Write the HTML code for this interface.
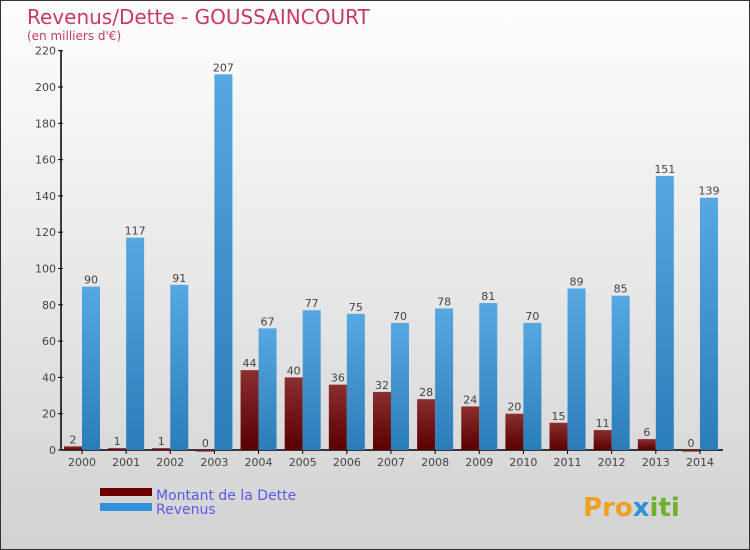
<!DOCTYPE html>
<html><head><meta charset="utf-8"><style>
body{margin:0}
#c{position:relative;width:748px;height:548px;border:1px solid #333;background:linear-gradient(#fefefe,#d2d2d2);font-family:"DejaVu Sans","Liberation Sans",sans-serif;overflow:hidden}
</style></head><body>
<div id="c">
<svg id="s" width="748" height="548" xmlns="http://www.w3.org/2000/svg">
<defs>
<linearGradient id="gr" x1="0" y1="0" x2="0" y2="1"><stop offset="0" stop-color="#8a2e30"/><stop offset="1" stop-color="#5a0000"/></linearGradient>
<linearGradient id="gb" x1="0" y1="0" x2="0" y2="1"><stop offset="0" stop-color="#56a8e2"/><stop offset="1" stop-color="#2a7db8"/></linearGradient>
</defs>
<text x="26" y="23" font-size="20" fill="#c8386a">Revenus/Dette - GOUSSAINCOURT</text>
<text x="26" y="39" font-size="12" fill="#c8386a">(en milliers d'€)</text>
<g id="g"></g>
<rect x="99" y="487" width="52" height="8" fill="#6a0000"/>
<rect x="99" y="502" width="52" height="8" fill="#3090d8"/>
<text x="155" y="499" font-size="14" fill="#5a5ae8">Montant de la Dette</text>
<text x="155" y="513" font-size="14" fill="#5a5ae8">Revenus</text>
<text x="582" y="515" font-size="26" font-weight="bold" fill="#f0a020">Pro<tspan fill="#3090d8">x</tspan><tspan fill="#70b030">iti</tspan></text>
</svg>
</div>
<script>
const years=["2000","2001","2002","2003","2004","2005","2006","2007","2008","2009","2010","2011","2012","2013","2014"];
const dette=[2,1,1,0,44,40,36,32,28,24,20,15,11,6,0];
const revenus=[90,117,91,207,67,77,75,70,78,81,70,89,85,151,139];
const ticks=[0,20,40,60,80,100,120,140,160,180,200,220];
const NS="http://www.w3.org/2000/svg";
const g=document.getElementById('g');
const y=v=>449-v*363/200;
const x=i=>81+i*44.14;
function mk(t,a,txt){const e=document.createElementNS(NS,t);for(const k in a)e.setAttribute(k,a[k]);if(txt!==undefined)e.textContent=txt;g.appendChild(e);return e;}
let e;
e=mk('line',{x1:60,y1:49,x2:60,y2:449,stroke:'#000','stroke-width':1.5});


e=mk('line',{x1:60,y1:449,x2:722,y2:449,stroke:'#000','stroke-width':1.5});


ticks.forEach(t=>{
 e=mk('line',{x1:57,y1:y(t),x2:62,y2:y(t),stroke:'#000'});
 
 
 e=mk('text',{x:55,y:y(t)+4,'font-size':11,fill:'#444','text-anchor':'end'},t);
 
 
});
years.forEach((yr,i)=>{
 const cx=x(i);
 e=mk('rect',{x:cx-18,y:y(dette[i]),width:18,height:Math.max(449-y(dette[i]),1.5),fill:'url(#gr)'});
 
 
 e=mk('rect',{x:cx,y:y(revenus[i]),width:18,height:449-y(revenus[i]),fill:'url(#gb)'});
 
 
 e=mk('text',{x:cx-9,y:y(dette[i])-3,'font-size':11,fill:'#444','text-anchor':'middle'},dette[i]);
 
 
 e=mk('text',{x:cx+9,y:y(revenus[i])-3,'font-size':11,fill:'#444','text-anchor':'middle'},revenus[i]);
 
 
 e=mk('line',{x1:cx,y1:449,x2:cx,y2:453,stroke:'#000'});
 
 
 e=mk('text',{x:cx,y:465,'font-size':11,fill:'#444','text-anchor':'middle'},yr);
 
 
});
</script>
</body></html>
